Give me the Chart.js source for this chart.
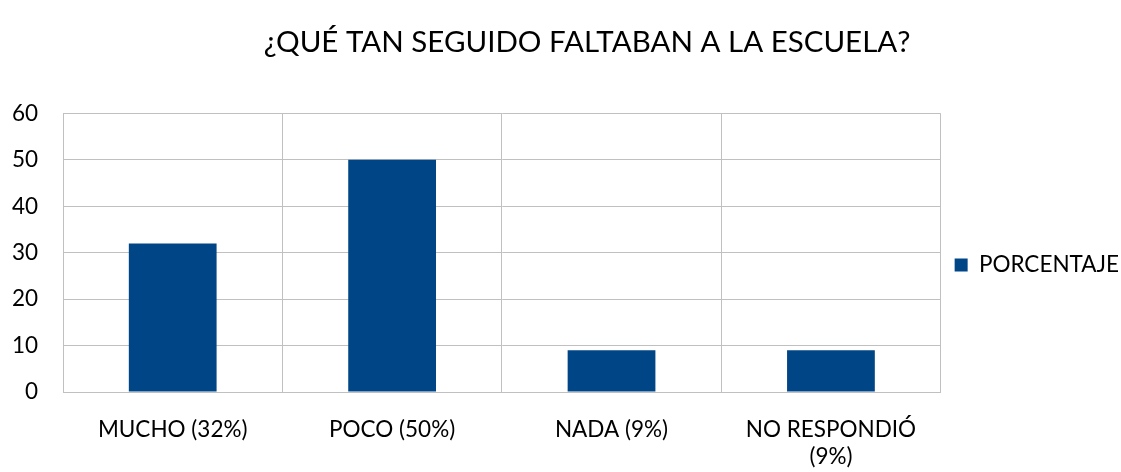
<!DOCTYPE html>
<html>
<head>
<meta charset="utf-8">
<script src="https://cdn.jsdelivr.net/npm/chart.js@4"></script>
<style>
  html, body { margin: 0; padding: 0; background: #fff; }
  #wrap { width: 1121px; height: 472px; }
</style>
</head>
<body>
<div id="wrap"><canvas id="canvas"></canvas></div>
<script>
var categories = ['MUCHO (32%)', 'POCO (50%)', 'NADA (9%)', ['NO RESPONDIÓ', '(9%)']];
var porcentaje = [32, 50, 9, 9];
var yTicks = [0, 10, 20, 30, 40, 50, 60];

var FONT = "Lato, 'Open Sans', sans-serif";

var ctx = document.getElementById('canvas').getContext('2d');
var chart = new Chart(ctx, {
    type: 'bar',
    data: {
        labels: categories,
        datasets: [{
            label: 'PORCENTAJE',
            backgroundColor: '#004586',
            borderWidth: 0,
            data: porcentaje,
            barPercentage: 0.8,
            categoryPercentage: 0.5
        }]
    },
    options: {
        responsive: true,
        maintainAspectRatio: false,
        animation: false,
        layout: { padding: { left: 0, right: -8, top: 0, bottom: 0 } },
        plugins: {
            title: {
                display: true,
                // leading spaces nudge the centred title a bit to the right, like the original
                text: '      ¿QUÉ TAN SEGUIDO FALTABAN A LA ESCUELA?',
                color: '#000',
                font: { family: FONT, size: 29.5, weight: 'normal' },
                padding: { top: 25, bottom: 53 }
            },
            legend: {
                position: 'right',
                title: {
                    display: true,
                    text: ' ',
                    font: { size: 10 },
                    padding: { top: 23, bottom: 23 }
                },
                labels: {
                    color: '#000',
                    font: { family: FONT, size: 22.5 },
                    boxWidth: 13,
                    boxHeight: 13,
                    padding: 14
                }
            },
            tooltip: { enabled: false }
        },
        scales: {
            x: {
                afterFit: function (axis) { axis.height = 80; },
                grid: { color: '#c0c0c0', lineWidth: 1, offset: true, drawTicks: false },
                border: { color: '#c0c0c0' },
                ticks: {
                    color: '#000',
                    font: { family: FONT, size: 22.5 },
                    padding: 24,
                    maxRotation: 0
                }
            },
            y: {
                min: 0,
                max: 60,
                afterBuildTicks: function (axis) {
                    axis.ticks = yTicks.map(function (v) { return { value: v }; });
                },
                afterFit: function (axis) { axis.width = 63; },
                grid: { color: '#c0c0c0', lineWidth: 1, drawTicks: false },
                border: { color: '#c0c0c0' },
                ticks: {
                    color: '#000',
                    font: { family: FONT, size: 22.5 },
                    padding: 25
                }
            }
        }
    }
});
</script>
</body>
</html>
